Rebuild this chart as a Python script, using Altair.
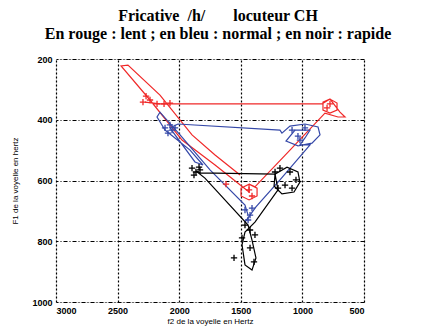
import altair as alt
import pandas as pd

# ---- trajectories (F2 Hz, F1 Hz) ----
red_f2 = [2278, 2156, 1831, 841, 776, 719, 719, 776, 833, 833, 776, 695, 654, 711, 817,
          1101, 1385, 1433, 1368, 1368, 1433, 1498, 1498, 1433, 1433, 1709, 1977, 2237,
          2472, 2416, 2156, 1896, 1709, 1506]
red_f1 = [342, 348, 348, 348, 332, 345, 368, 378, 368, 342, 332, 375, 391, 391, 378,
          500, 621, 612, 625, 651, 664, 651, 625, 612, 638, 549, 467, 335,
          223, 220, 319, 450, 516, 582]

blue_f2 = [1441, 1466, 1750, 1993, 2156, 2180, 2115, 1912, 1807, 1872, 2075, 2010, 1182,
           1166, 1101, 979, 873, 857, 922, 1036, 1133, 1060, 938, 979, 1020, 938,
           1182, 1377, 1425, 1466]
blue_f1 = [714, 681, 565, 450, 375, 391, 434, 500, 549, 539, 427, 414, 434,
           444, 421, 414, 424, 450, 477, 486, 470, 434, 434, 460, 483, 483,
           598, 687, 714, 737]

black_f2 = [1864, 1831, 1222, 1125, 1036, 1020, 1068, 1166, 1230, 1222, 1198, 1385, 1466,
            1490, 1466, 1409, 1377, 1409, 1441, 1791, 1864]
black_f1 = [569, 575, 579, 556, 572, 605, 638, 644, 618, 579, 631, 737, 770,
            812, 878, 895, 855, 796, 747, 592, 569]

# ---- '+' markers ----
red_m_f2 = [2294, 2237, 2180, 2123, 2075, 2269, 1620, 776, 800, 1433, 1409]
red_m_f1 = [342, 335, 348, 348, 345, 322, 612, 348, 361, 631, 651]
blue_m_f2 = [2115, 2075, 2058, 2091, 2034, 1084, 1036, 979, 1020, 1466, 1425, 1441, 1409]
blue_m_f1 = [427, 417, 434, 444, 427, 434, 454, 427, 467, 697, 714, 730, 691]
black_m_f2 = [1896, 1864, 1831, 1880, 1839, 1222, 1182, 1101, 1052, 1141, 1198, 1084,
              1466, 1425, 1490, 1385, 1425, 1393, 1555]
black_m_f1 = [559, 572, 565, 582, 556, 572, 559, 572, 598, 615, 625, 625,
              747, 763, 789, 779, 822, 868, 855]

series = ["lent", "normal", "rapide"]
colors = ["#f02828", "#3548a8", "#000000"]

title_lines = ["Fricative\u00a0\u00a0/h/\u00a0\u00a0\u00a0\u00a0\u00a0\u00a0\u00a0locuteur CH",
               "En rouge : lent ; en bleu : normal ; en noir : rapide"]

rows = []
for name, f2s, f1s in [("lent", red_f2, red_f1), ("normal", blue_f2, blue_f1),
                       ("rapide", black_f2, black_f1)]:
    for i, (a, b) in enumerate(zip(f2s, f1s)):
        rows.append({"vitesse": name, "ordre": i, "F2": a, "F1": b})
lines_df = pd.DataFrame(rows)

mrows = []
for name, f2s, f1s in [("lent", red_m_f2, red_m_f1), ("normal", blue_m_f2, blue_m_f1),
                       ("rapide", black_m_f2, black_m_f1)]:
    for a, b in zip(f2s, f1s):
        mrows.append({"vitesse": name, "F2": a, "F1": b})
marks_df = pd.DataFrame(mrows)

x_enc = alt.X("F2:Q",
              scale=alt.Scale(domain=[500, 3000], reverse=True, nice=False, zero=False),
              axis=alt.Axis(values=[500, 1000, 1500, 2000, 2500, 3000], format="d",
                            title="f2 de la voyelle  en Hertz",
                            grid=True, gridDash=[2, 2], gridColor="black",
                            gridWidth=1.2, gridOpacity=1, ticks=False, domain=False,
                            labelPadding=4, titlePadding=2,
                            labelFont="Liberation Sans", labelFontSize=9,
                            labelFontWeight="bold", labelColor="black",
                            titleFont="Liberation Sans", titleFontSize=8,
                            titleFontWeight="normal", titleColor="black"))
y_enc = alt.Y("F1:Q",
              scale=alt.Scale(domain=[200, 1000], reverse=True, nice=False, zero=False),
              axis=alt.Axis(values=[200, 300, 400, 500, 600, 700, 800, 900, 1000], format="d",
                            title="F1 de la voyelle en hertz",
                            grid=True, gridDash=[4, 2, 1, 2], gridColor="black",
                            gridWidth=1.2, gridOpacity=1, ticks=False, domain=False,
                            labelPadding=4, titlePadding=12,
                            labelFont="Liberation Sans", labelFontSize=9,
                            labelFontWeight="bold", labelColor="black",
                            titleFont="Liberation Sans", titleFontSize=8,
                            titleFontWeight="normal", titleColor="black"))
color_enc = alt.Color("vitesse:N", scale=alt.Scale(domain=series, range=colors), legend=None)

lines = alt.Chart(lines_df).mark_line(strokeWidth=1.2).encode(
    x=x_enc, y=y_enc, color=color_enc, detail="vitesse:N", order="ordre:Q")

points = alt.Chart(marks_df).mark_point(
    shape="M-1,0L1,0M0,-1L0,1", filled=False, size=40, strokeWidth=1.3, opacity=1
).encode(x="F2:Q", y="F1:Q", color=color_enc)

chart = alt.layer(lines, points).properties(
    width=308, height=243,
    title=alt.TitleParams(
        title_lines,
        font="Liberation Serif", fontSize=16, fontWeight="bold", color="black",
        anchor="middle", offset=13, lineHeight=18, dx=8),
    autosize=alt.AutoSizeParams(type="none"),
    padding={"left": 48, "top": 51, "right": 50, "bottom": 26},
).configure_view(stroke="#444444", strokeWidth=1.5).configure(background="white")

chart.save("out.html", embed_options={"renderer": "svg", "actions": False})
